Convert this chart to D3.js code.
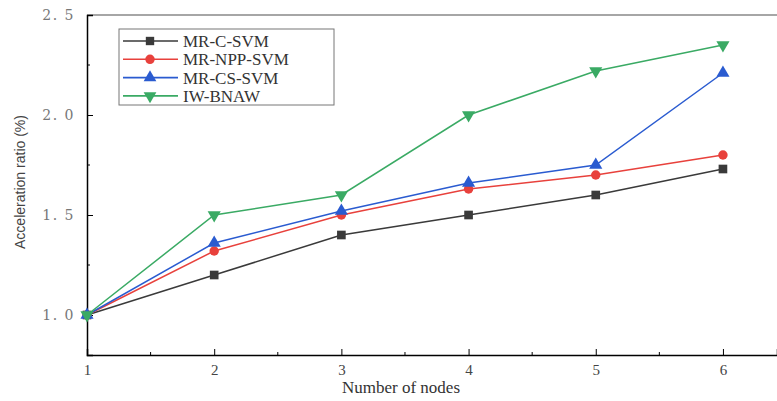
<!DOCTYPE html>
<html><head><meta charset="utf-8">
<script src="https://cdn.jsdelivr.net/npm/d3@7"></script>
<style>body{margin:0;background:#fff}svg{display:block}</style>
</head><body>
<svg id="c" width="777" height="401"></svg>
<script>
const nodes = [1, 2, 3, 4, 5, 6];
const seriesNames = ["MR-C-SVM", "MR-NPP-SVM", "MR-CS-SVM", "IW-BNAW"];
const mrC   = [1.0, 1.2, 1.4, 1.5, 1.6, 1.73];
const mrNPP = [1.0, 1.32, 1.5, 1.63, 1.7, 1.8];
const mrCS  = [1.0, 1.36, 1.52, 1.66, 1.75, 2.21];
const iwB   = [1.0, 1.5, 1.6, 2.0, 2.22, 2.35];
const yTicks = [1.0, 1.5, 2.0, 2.5];
const yTickLabels = ["1. 0", "1. 5", "2. 0", "2. 5"];
const colors = ["#3a3a3a", "#e8413c", "#2a5bd0", "#3aaa64"];
const symbols = [d3.symbolSquare, d3.symbolCircle, d3.symbolTriangle, "tri-down"];

const svg = d3.select("#c");
const L = 87, R = 777, T = 15, B = 355;
const x = d3.scaleLinear().domain([1, 6.425]).range([L, R]);
const y = d3.scaleLinear().domain([0.8, 2.5]).range([B, T]);

// top border
svg.append("line").attr("x1", L).attr("x2", R).attr("y1", T).attr("y2", T)
  .attr("stroke", "#888").attr("stroke-width", 1.5);

// y axis
const ya = svg.append("g").attr("transform", `translate(${L},0)`)
  .call(d3.axisLeft(y).tickValues(yTicks).tickSize(-6).tickFormat((d, i) => yTickLabels[i]));
ya.select(".domain").attr("stroke", "#000").attr("stroke-width", 1.5);
ya.selectAll(".tick line").attr("stroke", "#000");
ya.selectAll("text").attr("font-family", "DejaVu Serif").attr("font-size", 14)
  .attr("fill", "#777").attr("x", -12).attr("letter-spacing", 1.5);
ya.selectAll(".minor").data([1.25, 1.75, 2.25]).enter().append("line")
  .attr("x1", 0).attr("x2", 3).attr("y1", d => y(d)).attr("y2", d => y(d)).attr("stroke", "#000");

// x axis
const xa = svg.append("g").attr("transform", `translate(0,${B})`)
  .call(d3.axisBottom(x).tickValues(nodes).tickSize(-6).tickFormat(d3.format("d")));
xa.select(".domain").attr("stroke", "#000").attr("stroke-width", 1.5);
xa.selectAll(".tick line").attr("stroke", "#000");
xa.selectAll("text").attr("font-family", "Liberation Serif").attr("font-size", 15)
  .attr("fill", "#444").attr("y", 9);
xa.selectAll(".minor").data([1.5, 2.5, 3.5, 4.5, 5.5]).enter().append("line")
  .attr("x1", d => x(d)).attr("x2", d => x(d)).attr("y1", 0).attr("y2", -3).attr("stroke", "#000");

// titles
svg.append("text").attr("x", 401).attr("y", 393).attr("text-anchor", "middle")
  .attr("font-family", "Liberation Serif").attr("font-size", 17).attr("fill", "#333")
  .text("Number of nodes");
svg.append("text").attr("transform", `translate(25,182) rotate(-90)`)
  .attr("text-anchor", "middle").attr("font-family", "Liberation Sans Narrow, Liberation Sans")
  .attr("font-size", 14).attr("fill", "#444").attr("textLength", 134).attr("lengthAdjust", "spacingAndGlyphs")
  .text("Acceleration ratio (%)");

function sym(s, size) {
  if (s === "tri-down") return d3.symbol().type(d3.symbolTriangle).size(size)();
  return d3.symbol().type(s).size(size)();
}

const allSeries = [mrC, mrNPP, mrCS, iwB];
const line = d3.line().x((d, i) => x(nodes[i])).y(d => y(d));
allSeries.forEach((vals, si) => {
  svg.append("path").datum(vals).attr("d", line).attr("fill", "none")
    .attr("stroke", colors[si]).attr("stroke-width", 1.5);
  svg.selectAll(".m" + si).data(vals).enter().append("path")
    .attr("d", sym(symbols[si], si === 1 ? 70 : 75))
    .attr("transform", (d, i) => `translate(${x(nodes[i])},${y(d)})${symbols[si] === "tri-down" ? " rotate(180)" : ""}`)
    .attr("fill", colors[si]);
});

// legend
const lg = svg.append("g");
lg.append("rect").attr("x", 119).attr("y", 29).attr("width", 215).attr("height", 76)
  .attr("fill", "#fff").attr("stroke", "#777").attr("stroke-width", 1);
seriesNames.forEach((n, i) => {
  const yy = 41 + i * 18.3;
  lg.append("line").attr("x1", 123).attr("x2", 178).attr("y1", yy).attr("y2", yy)
    .attr("stroke", colors[i]).attr("stroke-width", 1.6);
  lg.append("path").attr("d", sym(symbols[i], 70))
    .attr("transform", `translate(150,${yy})${symbols[i] === "tri-down" ? " rotate(180)" : ""}`)
    .attr("fill", colors[i]);
  lg.append("text").attr("x", 183).attr("y", yy + 6).attr("font-family", "Liberation Serif")
    .attr("font-size", 17).attr("fill", "#333").text(n);
});
</script>
</body></html>
